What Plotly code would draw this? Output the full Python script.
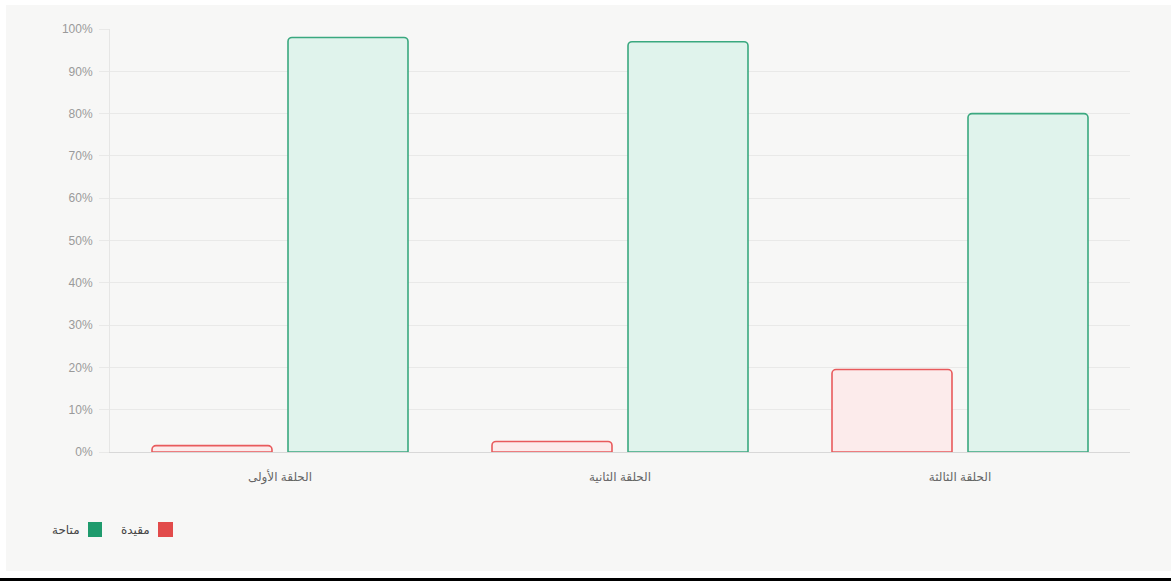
import plotly.graph_objects as go

categories = ["الحلقة الأولى", "الحلقة الثانية", "الحلقة الثالثة"]
restricted = [1.5, 2.5, 19.5]
available = [98, 97, 80]
series_names = ["مقيدة", "متاحة"]
y_ticks = list(range(0, 101, 10))
y_tick_labels = [f"{v}%" for v in y_ticks]

W, H = 1171, 581
L, R, T, B = 110, 41, 29, 129
pw, ph = W - L - R, H - T - B

def px(x):
    return (x - L) / pw

def py(y):
    return (H - B - y) / ph

FONT = "Liberation Sans, DejaVu Sans, sans-serif"
RED_LINE, RED_FILL, RED_SOLID = "#e85a5c", "#fcebeb", "#e24b4b"
GRN_LINE, GRN_FILL, GRN_SOLID = "#3aa87f", "#e0f3ec", "#1f9b6d"

fig = go.Figure()
fig.add_trace(go.Bar(x=categories, y=restricted, name=series_names[0],
                     marker=dict(color=RED_FILL, line=dict(color=RED_LINE, width=1.6), cornerradius=4),
                     showlegend=False))
fig.add_trace(go.Bar(x=categories, y=available, name=series_names[1],
                     marker=dict(color=GRN_FILL, line=dict(color=GRN_LINE, width=1.6), cornerradius=4),
                     showlegend=False))

shapes = [
    dict(type="rect", xref="paper", yref="paper", x0=px(6), x1=px(1172), y0=py(571), y1=py(5),
         fillcolor="#f7f7f6", line=dict(width=0), layer="below"),
    dict(type="rect", xref="paper", yref="paper", x0=px(0), x1=px(1172), y0=py(581), y1=py(578),
         fillcolor="#000000", line=dict(width=0), layer="below"),
    # legend swatches
    dict(type="rect", xref="paper", yref="paper", x0=px(158), x1=px(173), y0=py(537), y1=py(522),
         fillcolor=RED_SOLID, line=dict(width=0), layer="above"),
    dict(type="rect", xref="paper", yref="paper", x0=px(88), x1=px(102), y0=py(537), y1=py(522),
         fillcolor=GRN_SOLID, line=dict(width=0), layer="above"),
]
annotations = [
    dict(xref="paper", yref="paper", x=px(152), y=py(530), text=series_names[0], showarrow=False,
         xanchor="right", yanchor="middle", font=dict(family=FONT, size=12, color="#444")),
    dict(xref="paper", yref="paper", x=px(82), y=py(530), text=series_names[1], showarrow=False,
         xanchor="right", yanchor="middle", font=dict(family=FONT, size=12, color="#444")),
]

fig.update_layout(
    width=W, height=H,
    margin=dict(l=L, r=R, t=T, b=B),
    paper_bgcolor="#ffffff",
    plot_bgcolor="rgba(0,0,0,0)",
    barmode="group",
    bargap=0.2,
    bargroupgap=0.1176,
    shapes=shapes,
    annotations=annotations,
    font=dict(family=FONT),
)
fig.update_yaxes(range=[0, 100], tickvals=y_ticks, ticktext=y_tick_labels,
                 showgrid=True, gridcolor="#e9e9e8", gridwidth=1,
                 showline=True, linecolor="#e6e6e5", linewidth=1,
                 ticks="outside", ticklen=10, tickcolor="#e9e9e8",
                 ticklabelstandoff=4,
                 tickfont=dict(family=FONT, size=12, color="#9a9a9a"),
                 zeroline=False, fixedrange=True)
fig.update_xaxes(showgrid=False, showline=True, linecolor="#d8d8d8", linewidth=1,
                 ticks="", ticklabelstandoff=14,
                 tickfont=dict(family=FONT, size=12, color="#666666"), fixedrange=True)

fig.write_html("out.html", config={"displayModeBar": False})
